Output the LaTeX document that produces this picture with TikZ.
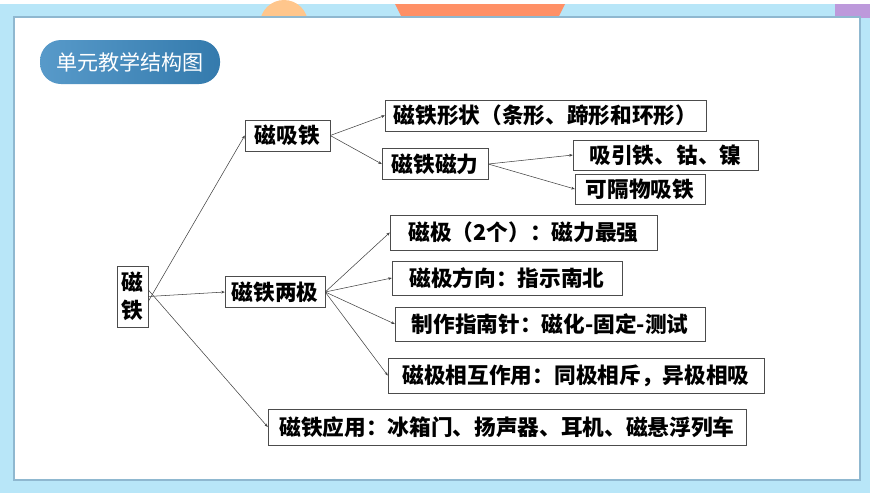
\documentclass[tikz,border=0pt]{standalone}
\usepackage{fontspec}
\usepackage{tikz}
\usetikzlibrary{arrows.meta}
\newfontfamily\cjk{Noto Sans CJK SC}
\definecolor{skyback}{HTML}{B8E6F8}
\definecolor{framec}{HTML}{8FB8D0}
\definecolor{pillc}{HTML}{3A88C0}

\begin{document}
\begin{tikzpicture}[x=0.03cm,y=-0.03cm,
        every node/.style={font=\cjk\bfseries\fontsize{18.5}{21}\selectfont},
        box/.style={draw=black!70,fill=white,inner sep=0pt,minimum height=31*0.03cm,anchor=center},
        link/.style={draw=black!75,line width=0.45pt,-{Stealth[length=3pt,width=2.4pt]}}]

    % backdrop
    \fill[skyback] (0,0) rectangle (870,489);
    \fill[orange!45] (284,20) circle (24);
    \fill[red!45!orange!60] (395,0) -- (565,0) -- (558,14) -- (402,14) -- cycle;
    \fill[blue!30!violet!40] (835,0) rectangle (870,14);
    \draw[framec,line width=1.2pt,fill=white] (14,13) rectangle (860,476);
    \node[left color=pillc!85!white,right color=pillc!90!black,rounded corners=21*0.03cm,
          minimum width=180*0.03cm,minimum height=44*0.03cm,
          text=white,font=\cjk\fontsize{18}{20}\selectfont] (title) at (130,58) {单元教学结构图};

    % boxes
    \node[box,minimum width=31*0.03cm,minimum height=61*0.03cm,align=center,
          font=\cjk\bfseries\fontsize{18.5}{24}\selectfont] (root) at (132.5,292.5) {磁\\铁};
    \node[box,minimum width=85*0.03cm] (xi) at (287.5,131.5) {磁吸铁};
    \node[box,minimum width=321*0.03cm] (shape) at (545.5,111.5) {磁铁形状（条形、蹄形和环形）};
    \node[box,minimum width=106*0.03cm] (force) at (435,160) {磁铁磁力};
    \node[box,minimum width=185*0.03cm,minimum height=30*0.03cm] (attract) at (665.5,151) {吸引铁、钴、镍};
    \node[box,minimum width=130*0.03cm,minimum height=30*0.03cm] (through) at (640,185) {可隔物吸铁};
    \node[box,minimum width=100*0.03cm] (poles) at (275,288) {磁铁两极};
    \node[box,minimum width=267*0.03cm,minimum height=35*0.03cm] (p1) at (523.5,228.5) {磁极（2个）：磁力最强};
    \node[box,minimum width=230*0.03cm,minimum height=34*0.03cm] (p2) at (507,274) {磁极方向：指示南北};
    \node[box,minimum width=310*0.03cm,minimum height=34*0.03cm] (p3) at (550,320) {制作指南针：磁化-固定-测试};
    \node[box,minimum width=376*0.03cm,minimum height=35*0.03cm] (p4) at (576,371.5) {磁极相互作用：同极相斥，异极相吸};
    \node[box,minimum width=478*0.03cm,minimum height=36*0.03cm] (use) at (507,423) {磁铁应用：冰箱门、扬声器、耳机、磁悬浮列车};

    % connectors
    \draw[link] ([yshift=-0.15cm]root.east) -- (xi.west);
    \draw[link] (root.east) -- (poles.west);
    \draw[link] ([yshift=0.2cm]root.east) -- (use.west);
    \draw[link] (xi.east) -- (shape.west);
    \draw[link] (xi.east) -- (force.west);
    \draw[link] (force.east) -- (attract.west);
    \draw[link] (force.east) -- (through.west);
    \draw[link] (poles.east) -- (p1.west);
    \draw[link] (poles.east) -- (p2.west);
    \draw[link] (poles.east) -- (p3.west);
    \draw[link] (poles.east) -- (p4.west);

\end{tikzpicture}
\end{document}
